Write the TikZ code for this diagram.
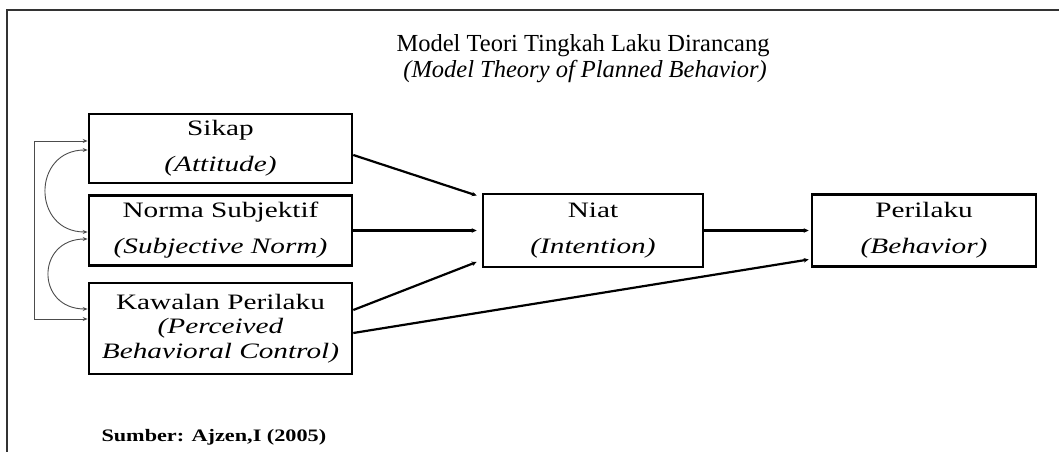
\documentclass[tikz,border=0pt]{standalone}
\usepackage{fontspec}
\setmainfont{Liberation Serif}
\newfontfamily\kotakfont[FakeStretch=1.33]{Liberation Serif}
\newfontfamily\sumberfont[FakeStretch=1.27]{Liberation Serif}
\usetikzlibrary{positioning,arrows.meta}

\tikzset{
  faktor/.style={draw, line width=2.6pt, align=center, inner sep=0pt,
    minimum width=263pt, font=\kotakfont\fontsize{22}{36}\selectfont},
  panah/.style={line width=2.2pt, -{Stealth[length=5pt,width=4.5pt]}},
  relasi/.style={draw=black!70, line width=0.9pt,
    {Stealth[length=5pt,width=4pt]}-{Stealth[length=5pt,width=4pt]}}
}

\begin{document}
\begin{tikzpicture}[x=1pt,y=1pt]
      \useasboundingbox (0,0) rectangle (1059,452);
      % Bingkai
      \draw[line width=1.8pt, black!80] (1059,442) -- (7,442) -- (7,0);

      % Judul
      \node[anchor=base, font=\fontsize{24.5}{28}\selectfont] (judul) at (583,400) {Model Teori Tingkah Laku Dirancang};
      \node[anchor=base, font=\fontsize{24.5}{28}\selectfont\itshape] (judulen) at (585,374) {(Model Theory of Planned Behavior)};

      % Tiga faktor
      \node[faktor, minimum height=69pt] (sikap) at (220.5,303.5) {Sikap\\\textit{(Attitude)}};
      \node[faktor, minimum height=70pt] (norma) at (220.5,221.5) {Norma Subjektif\\\textit{(Subjective Norm)}};
      \node[faktor, minimum height=91pt, font=\kotakfont\fontsize{22}{24.5}\selectfont] (kawalan) at (220.5,123.5) {Kawalan Perilaku\\\textit{(Perceived}\\\textit{Behavioral Control)}};

      % Niat dan perilaku
      \node[faktor, minimum width=220pt, minimum height=73pt] (niat) at (593,221.5) {Niat\\\textit{(Intention)}};
      \node[faktor, minimum width=224pt, minimum height=72pt] (perilaku) at (924,221.5) {Perilaku\\\textit{(Behavior)}};

      % Panah ke niat dan perilaku
      \draw[panah] ([yshift=-6.5]sikap.east) -- ([xshift=-5,yshift=35]niat.west);
      \draw[panah] (norma.east) -- ([xshift=-5]niat.west);
      \draw[panah] ([yshift=18.5]kawalan.east) -- ([xshift=-5,yshift=-31.5]niat.west);
      \draw[panah] ([yshift=-4.5]kawalan.east) -- ([xshift=-2,yshift=-29]perilaku.west);
      \draw[panah] (niat.east) -- ([xshift=-2]perilaku.west);

      % Hubungan antar faktor
      \draw[relasi] ([yshift=7.5]sikap.west) -- ++(-53,0) |- ([yshift=9.5]kawalan.west);
      \draw[relasi] ([yshift=-1.5]sikap.west) .. controls +(-56,0) and +(-56,0) .. ([yshift=-1.5]norma.west);
      \draw[relasi] ([yshift=-8.5]norma.west) .. controls +(-52,0) and +(-52,0) .. ([yshift=19.5]kawalan.west);

      % Sumber
      \node[anchor=west, font=\sumberfont\fontsize{17.5}{20}\selectfont\bfseries] (sumber) at (98,15) {Sumber: Ajzen,I (2005)};
    \end{tikzpicture}
\end{document}
